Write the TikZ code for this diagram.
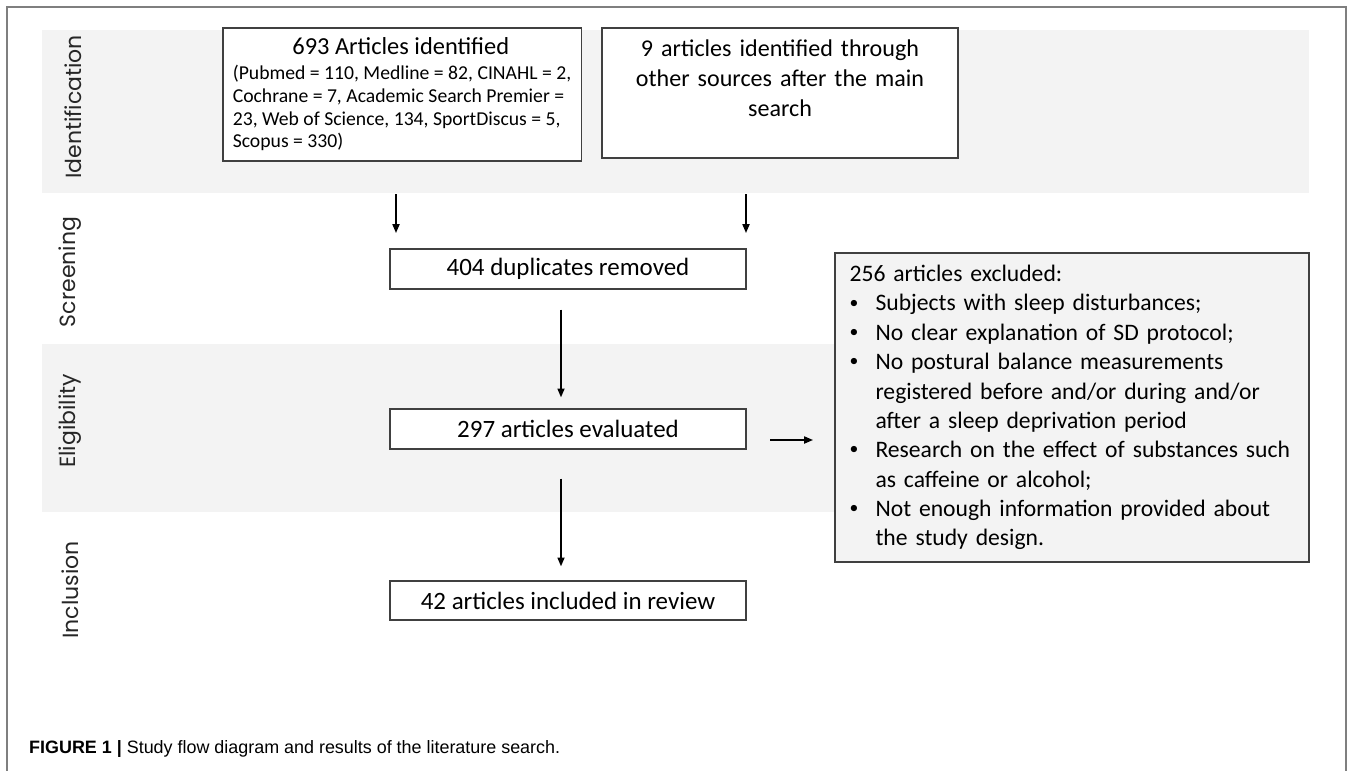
\documentclass[tikz,border=0pt]{standalone}
\usepackage{fontspec}
\setmainfont{Carlito}
\newfontfamily\lanefont{Poppins}
\newfontfamily\capfont{Liberation Sans}
\usetikzlibrary{arrows.meta, positioning}

\definecolor{bandgrey}{HTML}{F3F3F3}
\definecolor{boxline}{HTML}{404040}
\definecolor{framegrey}{HTML}{7F7F7F}

\newcommand{\exitem}{\noindent\hangindent=0.52cm\hangafter=1\makebox[0.52cm][l]{\raisebox{0.12em}{\scalebox{0.75}{\textbullet}}}}

\begin{document}
\begin{tikzpicture}[x=0.02cm, y=-0.02cm,
    band/.style={fill=bandgrey, draw=none},
    lane/.style={rotate=90, font=\lanefont\fontsize{12.5}{14}\selectfont, text=black!85},
    box/.style={rectangle, draw=boxline, line width=0.8pt, fill=white, minimum width=7.12cm,
        font=\fontsize{14.2}{17}\selectfont},
    flow/.style={-{Triangle[length=5pt,width=4pt]}, line width=0.9pt, black}]

    \useasboundingbox (0,0) rectangle (1357,771);

    % Frame and stage bands
    \draw[framegrey, line width=0.8pt] (7,771) -- (7,7) -- (1346,7) -- (1346,771);
    \fill[band] (42,30) rectangle (1309,193);
    \fill[band] (42,344) rectangle (1309,512);

    % Stage labels
    \node[lane] (l_ident) at (73,107) {Identification};
    \node[lane] (l_screen) at (70,272) {Screening};
    \node[lane] (l_elig) at (70,421) {Eligibility};
    \node[lane] (l_incl) at (70,590) {Inclusion};

    % Identification
    \node[box, minimum height=2.66cm, inner xsep=0.2cm, align=left,
        font=\fontsize{11.2}{13}\selectfont] (found) at (402,94.5)
        {\makebox[6.72cm][c]{\fontsize{13.9}{14}\selectfont 693 Articles identified}\\[1pt]
         (Pubmed = 110, Medline = 82, CINAHL = 2,\\
         Cochrane = 7, Academic Search Premier =\\
         23, Web of Science, 134, SportDiscus = 5,\\
         Scopus = 330)};
    \node[box, minimum height=2.6cm, text width=6.72cm, inner xsep=0.2cm, align=center,
        font=\fontsize{13.7}{17}\selectfont] (other) at (780,93)
        {9 articles identified through\\ other sources after the main\\ search\\ \mbox{}};

    % Screening / eligibility / inclusion
    \node[box, minimum height=0.8cm] (dup) at (568,269) {404 duplicates removed};
    \node[box, minimum height=0.8cm] (eval) at (568,429) {297 articles evaluated};
    \node[box, minimum height=0.78cm] (incl) at (568,600.5) {42 articles included in review};

    % Exclusions
    \node[box, fill=bandgrey, minimum width=9.48cm, minimum height=6.18cm, text width=8.9cm,
        inner xsep=0.29cm, align=left, font=\fontsize{13.45}{16.7}\selectfont] (excl) at (1072,407.5)
        {\noindent 256 articles excluded:\par
         \exitem Subjects with sleep disturbances;\par
         \exitem No clear explanation of SD protocol;\par
         \exitem No postural balance measurements\newline registered before and/or during and/or\newline after a sleep deprivation period\par
         \exitem Research on the effect of substances such\newline as caffeine or alcohol;\par
         \exitem Not enough information provided about\newline the study design.\par};

    % Arrows
    \coordinate (a_l0) at (396,194);
    \coordinate (a_l1) at (396,233);
    \coordinate (a_r0) at (746,194);
    \coordinate (a_r1) at (746,233);
    \coordinate (a_x0) at (770,440);
    \coordinate (a_x1) at (813,440);
    \draw[flow] (a_l0) -- (a_l1);
    \draw[flow] (a_r0) -- (a_r1);
    \draw[flow, shorten <=0.4cm, shorten >=0.22cm] ([xshift=-0.14cm]dup.south) -- ([xshift=-0.14cm]eval.north);
    \draw[flow, shorten <=0.58cm, shorten >=0.28cm] ([xshift=-0.14cm]eval.south) -- ([xshift=-0.14cm]incl.north);
    \draw[flow] (a_x0) -- (a_x1);

    % Caption
    \node[anchor=base west, font=\capfont\fontsize{10.2}{12}\selectfont] (caption) at (23,753)
        {\textbf{FIGURE 1 |} Study flow diagram and results of the literature search.};

\end{tikzpicture}
\end{document}
